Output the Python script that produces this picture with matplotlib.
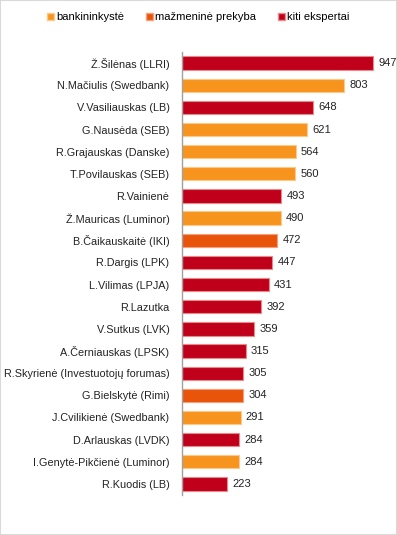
import matplotlib.pyplot as plt
from matplotlib.patches import Patch, Rectangle

plt.rcParams['font.family'] = ['Liberation Sans', 'DejaVu Sans']

names = [
    'Ž.Šilėnas (LLRI)', 'N.Mačiulis (Swedbank)', 'V.Vasiliauskas (LB)',
    'G.Nausėda (SEB)', 'R.Grajauskas (Danske)', 'T.Povilauskas (SEB)',
    'R.Vainienė', 'Ž.Mauricas (Luminor)', 'B.Čaikauskaitė (IKI)',
    'R.Dargis (LPK)', 'L.Vilimas (LPJA)', 'R.Lazutka', 'V.Sutkus (LVK)',
    'A.Černiauskas (LPSK)', 'R.Skyrienė (Investuotojų forumas)',
    'G.Bielskytė (Rimi)', 'J.Cvilikienė (Swedbank)', 'D.Arlauskas (LVDK)',
    'I.Genytė-Pikčienė (Luminor)', 'R.Kuodis (LB)',
]
values = [947, 803, 648, 621, 564, 560, 493, 490, 472, 447, 431, 392, 359,
          315, 305, 304, 291, 284, 284, 223]
groups = ['kiti', 'bank', 'kiti', 'bank', 'bank', 'bank', 'kiti', 'bank',
          'retail', 'kiti', 'kiti', 'kiti', 'kiti', 'kiti', 'kiti', 'retail',
          'bank', 'kiti', 'bank', 'kiti']

group_labels = {'bank': 'bankininkystė', 'retail': 'mažmeninė prekyba',
                'kiti': 'kiti ekspertai'}
colors = {'bank': '#F7941E', 'retail': '#E8540A', 'kiti': '#C0001A'}
edges = {'bank': '#FBC98A', 'retail': '#F5A078', 'kiti': '#E88A8A'}

fig = plt.figure(figsize=(3.97, 5.35), dpi=100)
ax = fig.add_axes([0.4584, 0.0748, 0.508, 0.828])

ypos = list(range(len(names)))
ax.barh(ypos, values, height=0.6,
        color=[colors[g] for g in groups],
        edgecolor=[edges[g] for g in groups], linewidth=0.8)

for y, v in zip(ypos, values):
    ax.text(v + 26, y, str(v), va='center', ha='left', fontsize=8,
            color='#222222', clip_on=False)

ax.set_xlim(0, 1000)
ax.set_ylim(19.5, -0.5)
ax.set_yticks(ypos)
ax.set_yticklabels(names, fontsize=7.8, color='#222222')
ax.tick_params(axis='y', length=0, pad=9)
ax.set_xticks([])
for side in ['top', 'right', 'bottom']:
    ax.spines[side].set_visible(False)
ax.spines['left'].set_color('#A0A0A0')
ax.spines['left'].set_linewidth(1)

handles = [Patch(facecolor=colors[k], edgecolor=edges[k], label=group_labels[k])
           for k in ['bank', 'retail', 'kiti']]
fig.legend(handles=handles, loc='center', bbox_to_anchor=(0.5, 0.968), ncol=3,
           frameon=False, fontsize=8, handlelength=0.6, handleheight=0.6,
           handletextpad=0.2, columnspacing=2.0)

fig.patches.append(Rectangle((0, 0), 1, 1, transform=fig.transFigure,
                             fill=False, edgecolor='#D9D9D9', linewidth=1.5))

fig.savefig('out.png', dpi=100)
